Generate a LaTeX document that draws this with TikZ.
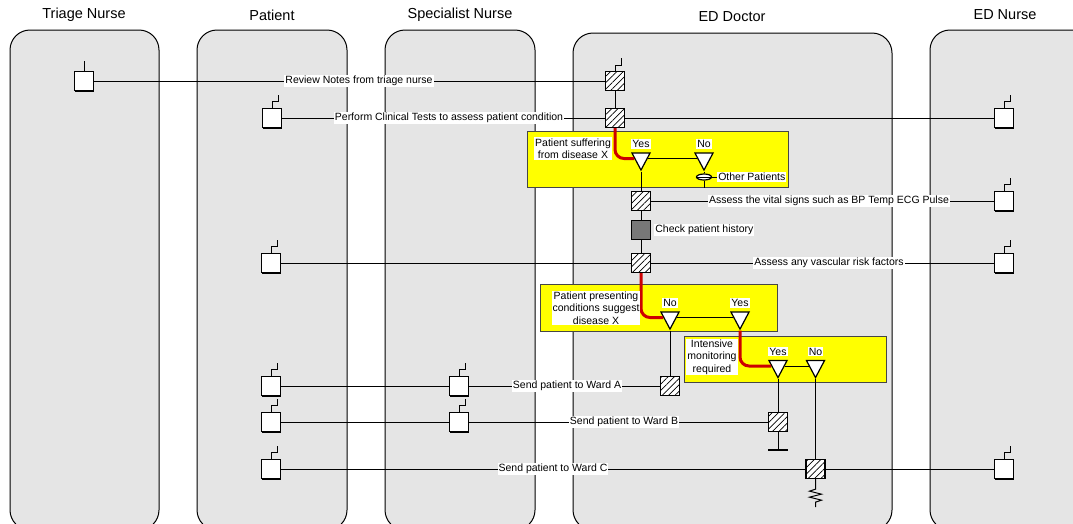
\documentclass[tikz,border=0pt]{standalone}
\usepackage{fontspec}
\setmainfont{Liberation Sans}
\usetikzlibrary{shapes.geometric,positioning,patterns.meta,shadows}
\definecolor{LaneGray}{RGB}{229,229,229}
\definecolor{QYellow}{RGB}{255,255,0}
\definecolor{QEdge}{RGB}{70,70,70}
\definecolor{FlowRed}{RGB}{204,0,0}
\definecolor{HistGray}{RGB}{120,120,120}
\tikzset{
  lane/.style={draw=black,line width=1pt,fill=LaneGray,rounded corners=20pt},
  lanetitle/.style={font=\fontsize{14.5}{17}\selectfont},
  actbox/.style={draw=black,line width=1.4pt,fill=white,minimum size=19pt,inner sep=0pt,drop shadow={shadow xshift=0.5pt,shadow yshift=-1pt,fill=black,opacity=1}},
  hatchbox/.style={draw=black,line width=1.3pt,preaction={fill=white},pattern={Lines[angle=45,distance=4.5pt,line width=0.7pt]},minimum size=19pt,inner sep=0pt},
  histbox/.style={draw=black,line width=1.3pt,fill=HistGray,minimum size=19pt,inner sep=0pt},
  qbox/.style={draw=QEdge,line width=1pt,fill=QYellow,inner sep=0pt},
  gate/.style={isosceles triangle,isosceles triangle stretches,shape border rotate=-90,draw=black,line width=1.2pt,fill=white,minimum width=18pt,minimum height=17pt,inner sep=0pt},
  oval/.style={ellipse,draw=black,line width=1.2pt,fill=white,minimum width=15pt,minimum height=6pt,inner sep=0pt},
  lbl/.style={fill=white,inner sep=1pt,font=\fontsize{10.5}{12.5}\selectfont,align=center},
  msg/.style={line width=1pt},
  flow/.style={FlowRed,line width=3pt,rounded corners=9pt},
}
% little hook on top of an activity box
\newcommand{\stepmark}[1]{\draw[line width=1pt] (#1.north) -- ++(0,-6) -- ++(6,0) -- ++(0,-7);}

\begin{document}
\begin{tikzpicture}[x=1pt,y=-1pt]
  \useasboundingbox (0,0) rectangle (1073,523);
  % swim lanes
  \draw[lane] (10,30) rectangle (159,530);
  \draw[lane] (197,30) rectangle (347,530);
  \draw[lane] (385,30) rectangle (535,530);
  \draw[lane] (573,33) rectangle (892,530);
  \draw[lane] (930,30) rectangle (1110,530);
  \node[lanetitle] (tTriage) at (84,15) {Triage Nurse};
  \node[lanetitle] (tPatient) at (272,15) {Patient};
  \node[lanetitle] (tSpec) at (460,15) {Specialist Nurse};
  \node[lanetitle] (tDoctor) at (732,17) {ED Doctor};
  \node[lanetitle] (tNurse) at (1005,15) {ED Nurse};

  % decision areas
  \node[qbox,minimum width=261pt,minimum height=56pt] (q1) at (657.5,159) {};
  \node[qbox,minimum width=237pt,minimum height=47pt] (q2) at (658.5,307.5) {};
  \node[qbox,minimum width=202pt,minimum height=46pt] (q3) at (785,359) {};

  % activity boxes
  \node[actbox] (tn1) at (84,81) {};
  \node[actbox] (pa1) at (272,118) {};
  \node[actbox] (pa2) at (271,263) {};
  \node[actbox] (pa3) at (271,386) {};
  \node[actbox] (pa4) at (271,422) {};
  \node[actbox] (pa5) at (271,469) {};
  \node[actbox] (sn1) at (459,386) {};
  \node[actbox] (sn2) at (459,422) {};
  \node[actbox] (en1) at (1004,118) {};
  \node[actbox] (en2) at (1004,201) {};
  \node[actbox] (en3) at (1004,263) {};
  \node[actbox] (en4) at (1004,469) {};
  \node[hatchbox] (dr1) at (615,81) {};
  \node[hatchbox] (dr2) at (615,118) {};
  \node[hatchbox] (dr3) at (641,201) {};
  \node[histbox] (dr4) at (641,230) {};
  \node[hatchbox] (dr5) at (641,263) {};
  \node[hatchbox] (dr6) at (670,386) {};
  \node[hatchbox] (dr7) at (778,422) {};
  \node[hatchbox] (dr8) at (815.5,469) {};

  % gates
  \node[gate] (q1yes) at (641,158.5) {};
  \node[gate] (q1no) at (704,158.5) {};
  \node[gate] (q2no) at (670,317.5) {};
  \node[gate] (q2yes) at (740,317.5) {};
  \node[gate] (q3yes) at (778,366) {};
  \node[gate] (q3no) at (815.5,366) {};
  \node[oval] (q1oval) at (704,177) {};

  \draw[line width=1pt] (tn1.north) -- ++(0,-10);
  \stepmark{dr1} \stepmark{pa1} \stepmark{pa2} \stepmark{pa3} \stepmark{pa4} \stepmark{pa5}
  \stepmark{sn1} \stepmark{sn2} \stepmark{en1} \stepmark{en2} \stepmark{en3} \stepmark{en4}

  % messages
  \draw[msg] (tn1) -- (dr1);
  \draw[msg] (pa1) -- (dr2); \draw[msg] (dr2) -- (en1);
  \draw[msg] (dr3) -- (en2);
  \draw[msg] (pa2) -- (dr5); \draw[msg] (dr5) -- (en3);
  \draw[msg] (pa3) -- (sn1); \draw[msg] (sn1) -- (dr6);
  \draw[msg] (pa4) -- (sn2); \draw[msg] (sn2) -- (dr7);
  \draw[msg] (pa5) -- (dr8); \draw[msg] (dr8) -- (en4);

  % doctor's thread
  \draw[msg] (dr1) -- (dr2);
  \draw[msg] (q1yes.east) -- (q1no.west);
  \draw[msg] (q1yes.apex) -- (dr3);
  \draw[msg] (q1no.apex) -- (q1oval);
  \draw[msg] (q1oval) -- (q1no |- q1.south);
  \draw[msg] (dr3) -- (dr4); \draw[msg] (dr4) -- (dr5);
  \draw[msg] (q2no.east) -- (q2yes.west);
  \draw[msg] (q3yes.east) -- (q3no.west);
  \draw[msg] (q2no.apex) -- (dr6);
  \draw[msg] (q3yes.apex) -- (dr7);
  \draw[msg] (q3no.apex) -- (dr8);
  \path (dr7.south) ++(0,18) coordinate (gnd);
  \draw[msg] (dr7) -- (gnd);
  \draw[line width=2pt] ([xshift=-10pt]gnd) -- ([xshift=10pt]gnd);
  \draw[msg] (dr8.south) -- ++(0,10) -- ++(-6,2) -- ++(12,3) -- ++(-12,3) -- ++(12,3) -- ++(-6,2) -- ++(0,5);

  % chosen path
  \draw[flow] (dr2.south) |- (q1yes.west);
  \draw[flow] (dr5.south) |- (q2no.west);
  \draw[flow] (q2yes.apex) |- (q3yes.west);

  % labels
  \node[lbl] (l1) at (359,81) {Review Notes from triage nurse};
  \node[lbl] (l2) at (449,118) {Perform Clinical Tests to assess patient condition};
  \node[lbl] (l3) at (829,201) {Assess the vital signs such as BP Temp ECG Pulse};
  \node[lbl] (l4) at (829,263) {Assess any vascular risk factors};
  \node[lbl] (lA) at (567,386) {Send patient to Ward A};
  \node[lbl] (lB) at (624,422) {Send patient to Ward B};
  \node[lbl] (lC) at (553,469) {Send patient to Ward C};
  \node[lbl,right=3pt of dr4] (lhist) {Check patient history};
  \node[lbl] (q1txt) at (573,148.5) {Patient suffering\\from disease X};
  \node[lbl] (q2txt) at (596,308) {Patient presenting\\conditions suggest\\disease X};
  \node[lbl] (q3txt) at (712,357) {Intensive\\monitoring\\required};
  \node[lbl,above=3.5pt of q1yes] {Yes};
  \node[lbl,above=3.5pt of q1no] {No};
  \node[lbl,above=3.5pt of q2no] {No};
  \node[lbl,above=3.5pt of q2yes] {Yes};
  \node[lbl,above=3.5pt of q3yes] {Yes};
  \node[lbl,above=3.5pt of q3no] {No};
  \node[lbl,right=5pt of q1oval] (q1other) {Other Patients};
  \draw[msg] (q1oval.west) -- (q1other.west);
\end{tikzpicture}
\end{document}
